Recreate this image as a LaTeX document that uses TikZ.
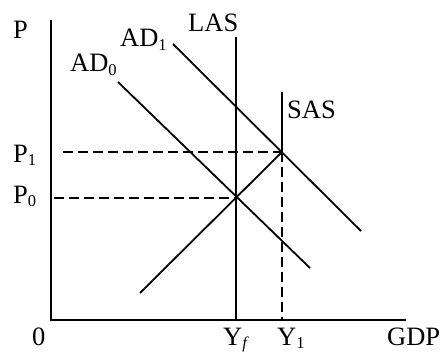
\documentclass[tikz,border=0pt]{standalone}
\usepackage{fontspec}
\setmainfont{Liberation Serif}
\newcommand{\lsub}[1]{\raisebox{-0.3ex}{\fontsize{16.5}{16.5}\selectfont #1}}
\begin{document}
\begin{tikzpicture}[x=1pt,y=-1pt,
  lbl/.style={font=\fontsize{26.5}{30}\selectfont, inner sep=0pt, anchor=base west},
  axis/.style={line width=2.8pt},
  curve/.style={line width=1.8pt},
  guide/.style={line width=1.7pt, dash pattern=on 10pt off 5pt}]
\useasboundingbox (0,0) rectangle (445,353);
% key points
\coordinate (O) at (51,320);
\coordinate (Ytop) at (51,20);
\coordinate (Xend) at (406,320);
\coordinate (E0) at (236,198);
\coordinate (E1) at (282,152);
\coordinate (LAStop) at (236,37);
\coordinate (LASbot) at (236,320);
\coordinate (SAStop) at (282,92);
\coordinate (SASbot) at (140,293);
\coordinate (Y1bot) at (282,320);
\coordinate (AD0a) at (118,82);
\coordinate (AD0b) at (310,268);
\coordinate (AD1a) at (173,44);
\coordinate (AD1b) at (361,231);
\coordinate (P1a) at (63,152);
\coordinate (P0a) at (54,198);
% axes
\draw[axis] (Ytop) -- (O) -- (Xend);
% curves
\draw[curve] (LAStop) -- (LASbot);
\draw[curve] (SASbot) -- (E1) -- (SAStop);
\draw[curve] (AD0a) -- (AD0b);
\draw[curve] (AD1a) -- (AD1b);
% guides
\draw[guide] (P1a) -- (E1);
\draw[guide] (P0a) -- (E0);
\draw[guide] (E1) -- (Y1bot);
% labels
\node[lbl] (lP) at (13,39) {P};
\node[lbl] (lLAS) at (188,32) {LAS};
\node[lbl] (lAD1) at (120,47) {AD\lsub{1}};
\node[lbl] (lAD0) at (70,72) {AD\lsub{0}};
\node[lbl] (lSAS) at (287,118) {SAS};
\node[lbl] (lP1) at (13,162) {P\lsub{1}};
\node[lbl] (lP0) at (13,203) {P\lsub{0}};
\node[lbl] (l0) at (32,345) {0};
\node[lbl] (lYf) at (223,345) {Y\lsub{\itshape f}};
\node[lbl] (lY1) at (277,345) {Y\lsub{1}};
\node[lbl] (lGDP) at (387,345) {GDP};
\end{tikzpicture}
\end{document}
